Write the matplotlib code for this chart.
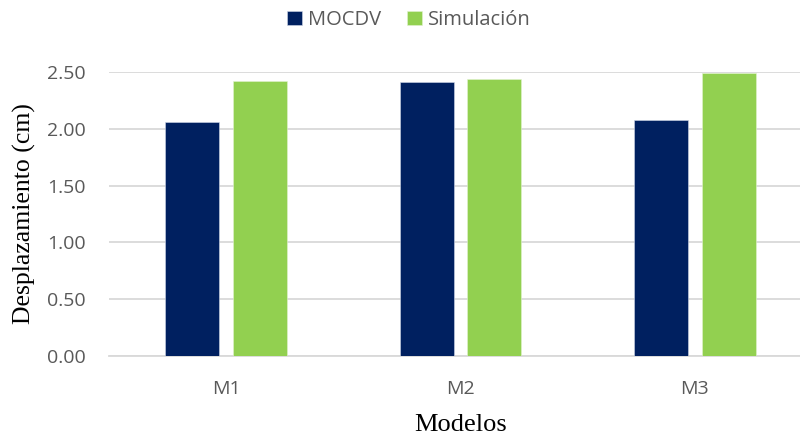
import matplotlib
matplotlib.use("Agg")
import matplotlib.pyplot as plt
import numpy as np

categories = ["M1", "M2", "M3"]
mocdv = [2.06, 2.41, 2.08]
simulacion = [2.42, 2.44, 2.49]
series_names = ["MOCDV", "Simulación"]
yticks = [0.0, 0.5, 1.0, 1.5, 2.0, 2.5]

W, H = 800, 436
fig = plt.figure(figsize=(W / 100, H / 100), dpi=100)
ax = fig.add_axes([109 / W, (H - 356) / H, (812 - 109) / W, 284 / H])

x = np.arange(len(categories))
bw = 0.231
off = 0.144
ax.bar(x - off, mocdv, bw, color="#002060", edgecolor="#d0d8e8", linewidth=0.4,
       label=series_names[0], zorder=3)
ax.bar(x + off, simulacion, bw, color="#92D050", edgecolor="#e2f2d0", linewidth=0.4,
       label=series_names[1], zorder=3)

ax.set_xlim(-0.5, 2.5)
ax.set_ylim(0, 2.5)
ax.set_xticks(x)
ax.set_xticklabels(categories)
ax.set_yticks(yticks)
ax.set_yticklabels([f"{v:.2f}" for v in yticks])

tick_family = ["Open Sans", "DejaVu Sans"]
for lbl in ax.get_xticklabels() + ax.get_yticklabels():
    lbl.set_fontfamily(tick_family)
    lbl.set_fontsize(14)
    lbl.set_color("#595959")

ax.tick_params(axis="both", length=0)
ax.tick_params(axis="x", pad=17)
ax.tick_params(axis="y", pad=17)

ax.grid(axis="y", color="#d9d9d9", linewidth=1.3, zorder=0)
ax.set_axisbelow(True)
for side in ["top", "right", "left"]:
    ax.spines[side].set_visible(False)
ax.spines["bottom"].set_color("#d9d9d9")
ax.spines["bottom"].set_linewidth(1.3)

ax.set_ylabel("Desplazamiento (cm)", family="Liberation Serif", size=18.5, color="black",
              labelpad=8)
ax.set_xlabel("Modelos", family="Liberation Serif", size=19, color="black", labelpad=12)

leg = fig.legend(loc="center", bbox_to_anchor=(409 / W, 1 - 20 / H), ncol=2, frameon=False,
                 prop={"family": "Open Sans", "size": 14.5}, handlelength=0.75,
                 handleheight=0.75, handletextpad=0.3, columnspacing=1.3)
for t in leg.get_texts():
    t.set_color("#595959")

fig.savefig("out.png", dpi=100)
